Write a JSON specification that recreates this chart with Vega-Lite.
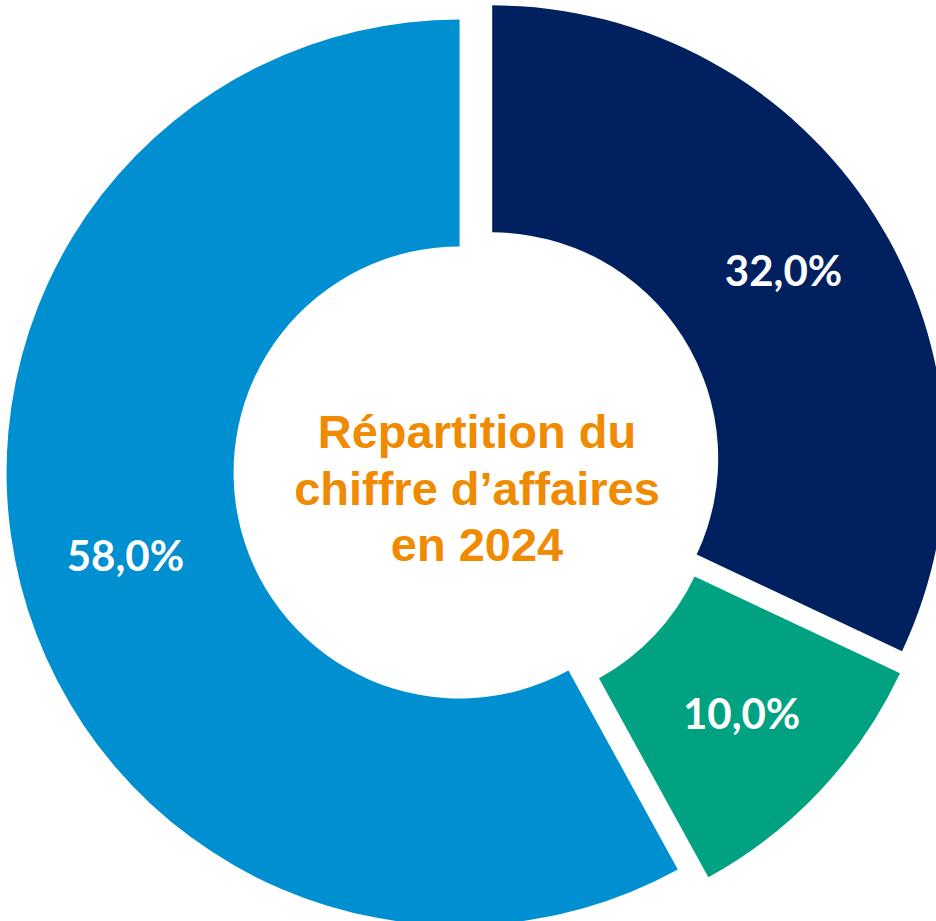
{
  "$schema": "https://vega.github.io/schema/vega-lite/v6.json",
  "width": 936,
  "height": 921,
  "autosize": {"type": "fit", "contains": "padding"},
  "padding": {"left": 16, "top": 12, "right": 0, "bottom": 0},
  "background": "white",
  "config": {
    "view": {"stroke": null},
    "locale": {"number": {"decimal": ",", "thousands": " ", "grouping": [3], "currency": ["", " €"]}}
  },
  "data": {
    "values": [
      {"segment": "Activité A", "part": 0.32, "rang": 1},
      {"segment": "Activité B", "part": 0.10, "rang": 2},
      {"segment": "Activité C", "part": 0.58, "rang": 3}
    ]
  },
  "layer": [
    {
      "mark": {
        "type": "arc",
        "innerRadius": 226,
        "outerRadius": 453,
        "xOffset": {"expr": "18*sin(scale('theta',(datum.part_start+datum.part_end)/2))"},
        "yOffset": {"expr": "-18*cos(scale('theta',(datum.part_start+datum.part_end)/2))"}
      },
      "encoding": {
        "theta": {"field": "part", "type": "quantitative", "stack": true},
        "order": {"field": "rang", "type": "quantitative"},
        "color": {
          "field": "segment",
          "type": "nominal",
          "scale": {"domain": ["Activité A", "Activité B", "Activité C"], "range": ["#002060", "#00A282", "#008FD0"]},
          "legend": null
        }
      }
    },
    {
      "mark": {
        "type": "text",
        "radius": 345,
        "font": "Lato",
        "fontWeight": "bold",
        "fontSize": 42,
        "color": "white",
        "align": "center",
        "baseline": "middle",
        "xOffset": {"expr": "18*sin(scale('theta',(datum.part_start+datum.part_end)/2))"},
        "yOffset": {"expr": "-18*cos(scale('theta',(datum.part_start+datum.part_end)/2))"}
      },
      "encoding": {
        "theta": {"field": "part", "type": "quantitative", "stack": true},
        "order": {"field": "rang", "type": "quantitative"},
        "text": {"field": "part", "type": "quantitative", "format": ".1%"}
      }
    },
    {
      "data": {"values": [{}]},
      "mark": {
        "type": "text",
        "text": ["Répartition du", "chiffre d’affaires", "en 2024"],
        "font": "Liberation Sans",
        "fontWeight": "bold",
        "fontSize": 47,
        "lineHeight": 56.5,
        "color": "#F08A00",
        "align": "center",
        "baseline": "middle",
        "dy": -34
      },
      "encoding": {}
    }
  ]
}
